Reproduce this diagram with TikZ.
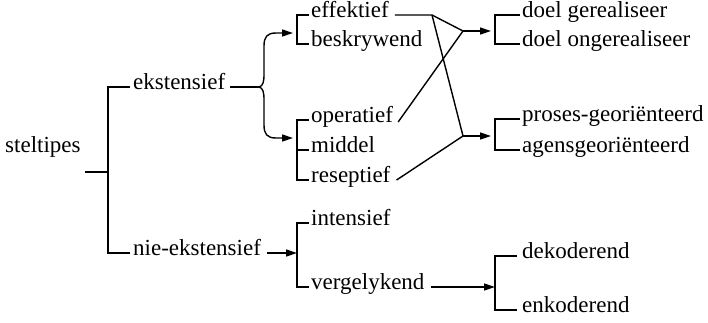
\documentclass[tikz,border=0pt]{standalone}
\usepackage{fontspec}
\setmainfont{Liberation Serif}
\usetikzlibrary{arrows.meta}
\begin{document}
\begin{tikzpicture}[x=1pt,y=-1pt,
  every node/.style={inner sep=0pt,anchor=mid west,font=\rmfamily\fontsize{23}{26}\selectfont},
  conn/.style={line width=1.4pt,line cap=butt,line join=miter},
  arr/.style={conn,-{Triangle[length=11pt,width=7pt]}}]
\useasboundingbox (0,0) rectangle (708,322);

% labels
\node (st)   at (5,150)   {steltipes};
\node (ek)   at (133,87)  {ekstensief};
\node (nek)  at (133,253) {nie-ekstensief};
\node (eff)  at (311,15)  {effektief};
\node (bes)  at (311,44)  {beskrywend};
\node (op)   at (311,120) {operatief};
\node (mid)  at (311,150) {middel};
\node (res)  at (311,180) {reseptief};
\node (int)  at (311,223) {intensief};
\node (verg) at (311,287) {vergelykend};
\node (dg)   at (522,15)  {doel gerealiseer};
\node (dog)  at (522,44)  {doel ongerealiseer};
\node (pg)   at (522,119) {proses-georiënteerd};
\node (ag)   at (522,150) {agensgeoriënteerd};
\node (dek)  at (522,256) {dekoderend};
\node (enk)  at (522,310) {enkoderend};

% bracket columns and junctions
\coordinate (c1) at (108,0);
\coordinate (c2) at (297,0);
\coordinate (c3) at (495,0);
\coordinate (stub) at (85,172);
\coordinate (bp) at (259,87);
\coordinate (bt) at (293,33);
\coordinate (bb) at (293,138);
\coordinate (kn) at (432,15);
\coordinate (ja) at (463,31);
\coordinate (jb) at (463,136);

% steltipes
\draw[conn] (stub) -- (stub -| c1);
\draw[conn] ([xshift=-3pt]ek.mid west) -- (ek.mid west -| c1) -- (nek.mid west -| c1) -- ([xshift=-3pt]nek.mid west);

% ekstensief and its brace
\draw[conn] ([xshift=5pt]ek.mid east) -- (bp);
\draw[arr] (bp) .. controls (263,86) and (264,82) .. (264,74) -- (264,46)
  .. controls (264,37) and (267,33) .. (276,33) -- (bt);
\draw[arr] (bp) .. controls (263,88) and (264,92) .. (264,100) -- (264,125)
  .. controls (264,134) and (267,138) .. (276,138) -- (bb);

% second-level brackets
\draw[conn] ([xshift=-2pt]eff.mid west) -- (eff.mid west -| c2) -- (bes.mid west -| c2) -- ([xshift=-2pt]bes.mid west);
\draw[conn] ([xshift=-2pt]op.mid west) -- (op.mid west -| c2) -- (res.mid west -| c2) -- ([xshift=-2pt]res.mid west);
\draw[conn] ([xshift=-2pt]mid.mid west) -- (mid.mid west -| c2);
\draw[conn] ([xshift=-2pt]int.mid west) -- (int.mid west -| c2) -- (verg.mid west -| c2) -- ([xshift=-2pt]verg.mid west);

% crossing connectors
\draw[conn] ([xshift=6pt]eff.mid east) -- (kn) -- (ja);
\draw[conn] (kn) -- (jb);
\draw[conn] ([xshift=5pt,yshift=-2pt]op.mid east) -- (ja);
\draw[conn] ([xshift=6pt]res.mid east) -- (jb);
\draw[arr] (ja) -- (ja -| 491,0);
\draw[arr] (jb) -- (jb -| 491,0);

% nie-ekstensief
\draw[arr] ([xshift=6pt]nek.mid east) -- (nek.mid east -| 297,0);
\draw[arr] ([xshift=6pt]verg.mid east) -- (verg.mid east -| 495,0);

% third-level brackets
\draw[conn] ([xshift=-2pt]dg.mid west) -- (dg.mid west -| c3) -- (dog.mid west -| c3) -- ([xshift=-2pt]dog.mid west);
\draw[conn] ([xshift=-2pt]pg.mid west) -- (pg.mid west -| c3) -- (ag.mid west -| c3) -- ([xshift=-2pt]ag.mid west);
\draw[conn] ([xshift=-5pt]dek.mid west) -- (dek.mid west -| c3) -- (enk.mid west -| c3) -- ([xshift=-5pt]enk.mid west);
\end{tikzpicture}
\end{document}
